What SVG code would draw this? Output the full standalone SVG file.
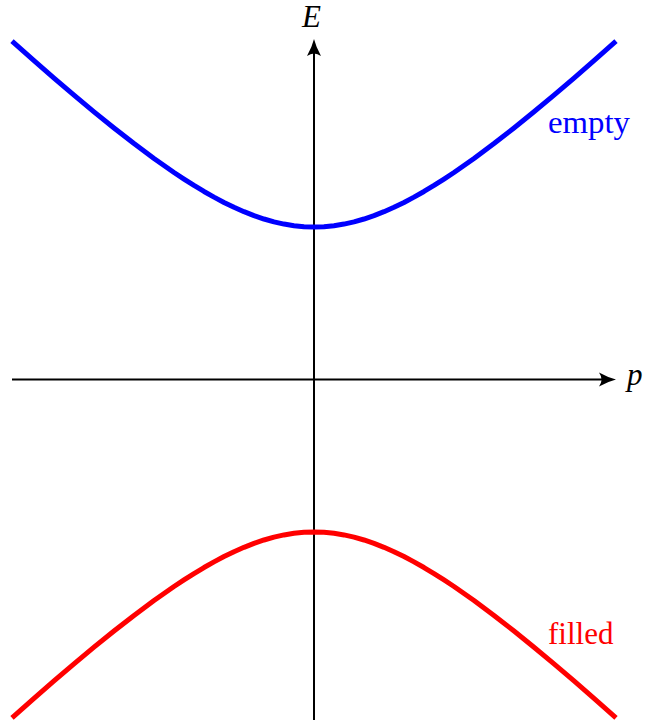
<svg xmlns="http://www.w3.org/2000/svg" width="645" height="722" viewBox="0 0 645 722">
<style>
.axis{stroke:#000;stroke-width:2;fill:none}
.curve{fill:none;stroke-width:5;stroke-linejoin:round;stroke-linecap:butt}
.lbl{font-family:"Liberation Serif","Times New Roman",serif;font-size:31px}
.it{font-style:italic;font-size:31px}
</style>
<defs>
<marker id="arr" markerUnits="userSpaceOnUse" markerWidth="20" markerHeight="16" viewBox="0 -8 18 16" refX="4" refY="0" orient="auto">
<path d="M17,0 Q9,-2 0,-7 Q5,0 0,7 Q9,2 17,0 Z" fill="#000"/>
</marker>
</defs>
<rect width="645" height="722" fill="#fff"/>
<g id="connectors">
<line class="axis" x1="314" y1="720" x2="314" y2="52" marker-end="url(#arr)"/>
<line class="axis" x1="12" y1="379.5" x2="603" y2="379.5" marker-end="url(#arr)"/>
</g>
<g id="empty-band">
<polyline class="curve" stroke="#0000ff" points="12,41.18 34,60.67 54,78.08 74,95.15 94,111.81 114,128 134,143.59 154,158.47 174,172.48 184,179.11 194,185.45 204,191.47 214,197.14 224,202.42 234,207.29 244,211.7 254,215.62 264,219.01 274,221.84 284,224.08 294,225.69 304,226.67 314,227 324,226.67 334,225.69 344,224.08 354,221.84 364,219.01 374,215.62 384,211.7 394,207.29 404,202.42 414,197.14 424,191.47 434,185.45 444,179.11 454,172.48 474,158.47 494,143.59 514,128 534,111.81 554,95.15 574,78.08 594,60.67 616,41.18"/>
<text class="lbl" x="548" y="133" fill="#0000ff" textLength="82" lengthAdjust="spacingAndGlyphs">empty</text>
</g>
<g id="filled-band">
<polyline class="curve" stroke="#ff0000" points="12,717.82 34,698.33 54,680.92 74,663.85 94,647.19 114,631 134,615.41 154,600.53 174,586.52 184,579.89 194,573.55 204,567.53 214,561.86 224,556.58 234,551.71 244,547.3 254,543.38 264,539.99 274,537.16 284,534.92 294,533.31 304,532.33 314,532 324,532.33 334,533.31 344,534.92 354,537.16 364,539.99 374,543.38 384,547.3 394,551.71 404,556.58 414,561.86 424,567.53 434,573.55 444,579.89 454,586.52 474,600.53 494,615.41 514,631 534,647.19 554,663.85 574,680.92 594,698.33 616,717.82"/>
<text class="lbl" x="548" y="644" fill="#ff0000">filled</text>
</g>
<g id="label-E">
<text class="lbl it" x="302" y="27">E</text>
</g>
<g id="label-p">
<text class="lbl it" x="627" y="385">p</text>
</g>
</svg>
